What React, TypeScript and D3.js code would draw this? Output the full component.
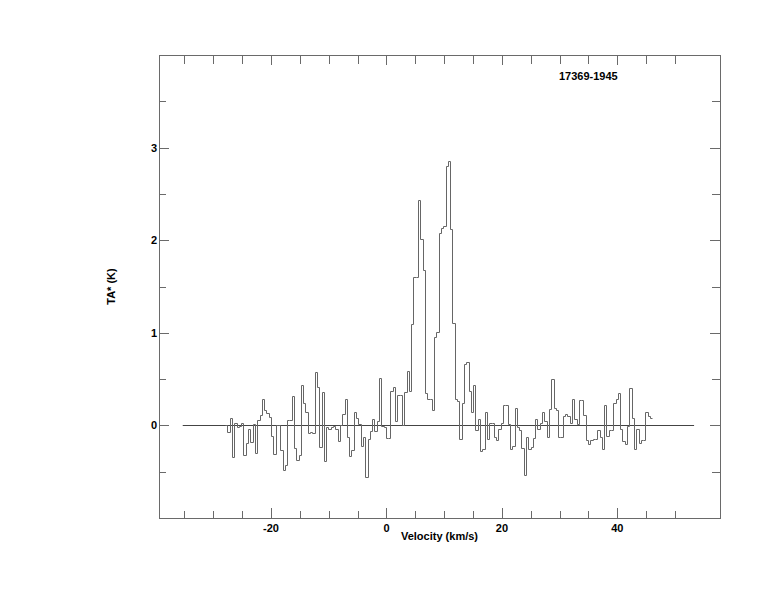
import React from "react";
import * as d3 from "d3";

const title = "17369-1945";
const xAxisTitle = "Velocity (km/s)";
const yAxisTitle = "TA* (K)";

// spectrum: first channel left edge (km/s), channel width (km/s), antenna temperature per channel (K)
const velocityStart = -27.96;
const channelWidth = 0.398;
const temperatures = [
  0.0, -0.07, 0.08, -0.34, 0.03, -0.02, -0.01, 0.03, -0.32, -0.19,
  -0.04, -0.18, 0.01, -0.3, 0.06, 0.11, 0.29, 0.17, 0.13, 0.09,
  -0.11, -0.31, 0.0, 0.0, -0.27, -0.48, -0.43, 0.06, 0.06, 0.32,
  -0.24, -0.37, -0.32, 0.44, 0.24, 0.15, -0.08, -0.07, -0.08, 0.58,
  0.41, -0.23, 0.36, -0.38, -0.02, -0.04, -0.02, -0.01, -0.04, -0.17,
  0.0, 0.12, 0.28, -0.13, -0.33, -0.27, 0.14, 0.08, 0.01, -0.22,
  -0.12, -0.56, -0.15, -0.06, 0.07, -0.06, 0.05, 0.51, -0.01, -0.02,
  -0.14, -0.14, 0.37, 0.41, 0.05, 0.33, 0.33, 0.0, 0.36, 0.59,
  0.37, 1.1, 1.6, 1.6, 2.43, 2.01, 1.68, 0.35, 0.29, 0.28,
  0.17, 0.96, 1.01, 2.08, 2.13, 2.15, 2.8, 2.86, 2.12, 1.11,
  0.28, 0.26, -0.15, 0.24, 0.66, 0.69, 0.37, 0.15, 0.44, -0.05,
  0.07, -0.28, -0.26, 0.15, -0.15, 0.03, 0.03, -0.12, -0.16, -0.04,
  0.03, 0.22, 0.22, 0.01, -0.26, -0.22, 0.19, -0.02, -0.05, -0.24,
  -0.54, -0.13, -0.25, -0.23, -0.14, 0.07, -0.04, 0.03, 0.15, 0.05,
  -0.12, 0.18, 0.5, 0.19, 0.17, -0.13, -0.13, 0.1, 0.12, 0.1,
  0.03, 0.29, 0.07, 0.02, 0.27, 0.27, 0.11, -0.16, -0.2, -0.16,
  -0.15, -0.15, -0.05, -0.13, -0.26, 0.22, -0.11, -0.05, -0.05, 0.24,
  0.29, 0.35, -0.04, -0.17, -0.2, -0.01, 0.4, 0.08, -0.26, -0.04,
  -0.19, -0.16, -0.16, 0.15, 0.1, 0.08,
];

const baselineRange = [-35.3, 53.3];
const xTicks = [-35, -30, -25, -20, -15, -10, -5, 0, 5, 10, 15, 20, 25, 30, 35, 40, 45, 50];
const xLabels = [-20, 0, 20, 40];
const yTicks = [-0.5, 0, 0.5, 1, 1.5, 2, 2.5, 3, 3.5];
const yLabels = [0, 1, 2, 3];

const W = 774;
const H = 612;
const L = 159, R = 720, T = 55, B = 518;

export default function App() {
  const x = d3.scaleLinear().domain([-39.41, 57.79]).range([L, R]);
  const y = d3.scaleLinear().domain([-1, 4]).range([B, T]);

  const pts: [number, number][] = temperatures.map((t, i) => [velocityStart + i * channelWidth, t]);
  pts.push([velocityStart + temperatures.length * channelWidth, temperatures[temperatures.length - 1]]);
  const line = d3
    .line<[number, number]>()
    .x((d) => Math.round(x(d[0])) + 0.5)
    .y((d) => Math.round(y(d[1])) + 0.5)
    .curve(d3.curveStepAfter);

  const frameColor = "#6a6a6a";
  const font = "'Liberation Sans', Arial, Helvetica, sans-serif";
  const cx = (v: number) => Math.round(x(v)) + 0.5;
  const cy = (v: number) => Math.round(y(v)) + 0.5;

  return (
    <svg
      width={W}
      height={H}
      viewBox={`0 0 ${W} ${H}`}
      style={{ position: "absolute", left: 0, top: 0, background: "#fff" }}
    >
      <rect x={0} y={0} width={W} height={H} fill="#fff" />
      {/* frame */}
      <rect x={L + 0.5} y={T + 0.5} width={R - L} height={B - T} fill="none" stroke={frameColor} strokeWidth={1} />
      {/* x ticks */}
      {xTicks.map((v) => {
        const major = xLabels.includes(v);
        const px = cx(v);
        return (
          <g key={"xt" + v}>
            <line x1={px} x2={px} y1={B} y2={B - (major ? 10 : 7)} stroke={frameColor} />
            <line x1={px} x2={px} y1={T} y2={T + (major ? 10 : 9)} stroke={frameColor} />
          </g>
        );
      })}
      {/* y ticks */}
      {yTicks.map((v) => {
        const major = yLabels.includes(v);
        const py = cy(v);
        return (
          <g key={"yt" + v}>
            <line x1={L} x2={L + (major ? 10 : 7)} y1={py} y2={py} stroke={frameColor} />
            <line x1={R} x2={R - (major ? 10 : 8)} y1={py} y2={py} stroke={frameColor} />
          </g>
        );
      })}
      {/* labels */}
      {xLabels.map((v) => (
        <text
          key={"xl" + v}
          x={x(v)}
          y={B + 14}
          textAnchor="middle"
          fontFamily={font}
          fontWeight="bold"
          fontSize={11}
          fill="#000"
        >
          {v}
        </text>
      ))}
      {yLabels.map((v) => (
        <text
          key={"yl" + v}
          x={L - 2}
          y={y(v) + 4}
          textAnchor="end"
          fontFamily={font}
          fontWeight="bold"
          fontSize={11}
          fill="#000"
        >
          {v}
        </text>
      ))}
      <text
        x={(L + R) / 2}
        y={540}
        textAnchor="middle"
        fontFamily={font}
        fontWeight="bold"
        fontSize={11}
        fill="#000"
      >
        {xAxisTitle}
      </text>
      <text
        transform={`translate(115, ${(T + B) / 2}) rotate(-90)`}
        textAnchor="middle"
        fontFamily={font}
        fontWeight="bold"
        fontSize={11}
        fill="#000"
      >
        {yAxisTitle}
      </text>
      <text x={559} y={79.5} fontFamily={font} fontWeight="bold" fontSize={11} fill="#000">
        {title}
      </text>
      {/* baseline */}
      <line
        x1={x(baselineRange[0])}
        x2={x(baselineRange[1])}
        y1={cy(0)}
        y2={cy(0)}
        stroke="#444"
        strokeWidth={1}
      />
      {/* spectrum */}
      <path d={line(pts) || ""} fill="none" stroke="#666" strokeWidth={1} />
    </svg>
  );
}
